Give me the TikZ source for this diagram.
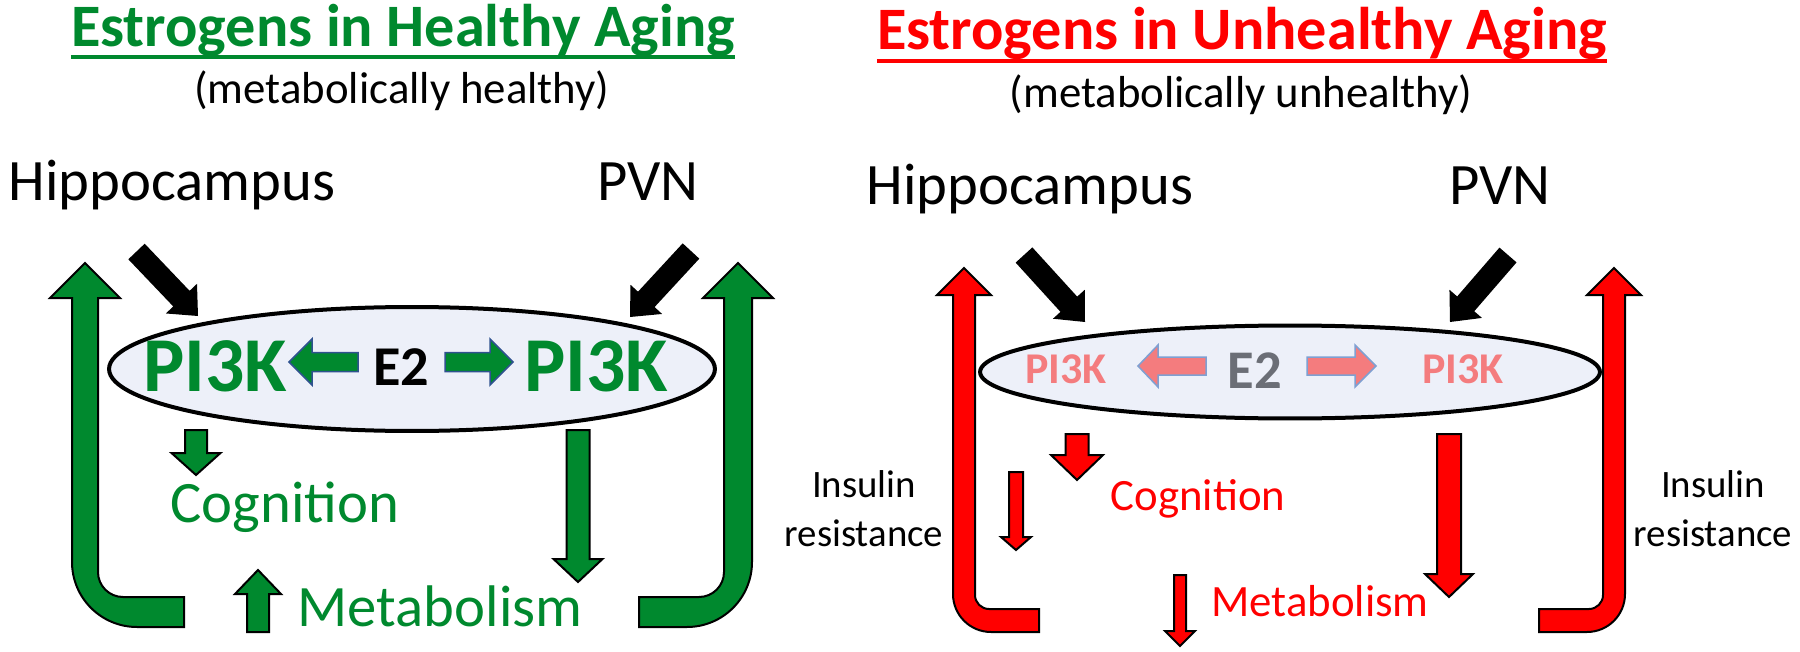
\documentclass[tikz,border=0pt]{standalone}
\usepackage{fontspec}
\setmainfont{Carlito}
\usepackage{xcolor}
\usetikzlibrary{calc, shapes.geometric}

\definecolor{hgreen}{RGB}{0,137,46}
\definecolor{ured}{RGB}{255,0,0}
\definecolor{pinkish}{RGB}{244,124,126}
\definecolor{pinkedge}{RGB}{127,160,210}
\definecolor{slate}{RGB}{107,110,118}
\definecolor{ovalfill}{RGB}{237,240,249}
\definecolor{navyedge}{RGB}{47,82,143}

% block arrow: style, tail, tip, half shaft, half head, head length (in px)
\newcommand{\barrow}[6]{%
  \path[#1] ($(#2)!#4*0.02cm!90:(#3)$)
    -- ($(#3)!#6*0.02cm!(#2)!#4*0.02cm!-90:(#2)$)
    -- ($(#3)!#6*0.02cm!(#2)!#5*0.02cm!-90:(#2)$)
    -- (#3)
    -- ($(#3)!#6*0.02cm!(#2)!#5*0.02cm!90:(#2)$)
    -- ($(#3)!#6*0.02cm!(#2)!#4*0.02cm!90:(#2)$)
    -- ($(#2)!#4*0.02cm!-90:(#3)$) -- cycle;}

\begin{document}
\begin{tikzpicture}[x=0.02cm, y=-0.02cm,
        ttl/.style={font=\bfseries\fontsize{34.3}{40}\selectfont, inner sep=0, anchor=base},
        subttl/.style={font=\fontsize{25.5}{30}\selectfont, inner sep=0, anchor=base},
        region/.style={font=\fontsize{33.4}{40}\selectfont, inner sep=0, anchor=base},
        bigpik/.style={font=\bfseries\fontsize{44.2}{50}\selectfont, text=hgreen, inner sep=0, anchor=base},
        smallpik/.style={font=\bfseries\fontsize{25}{30}\selectfont, text=pinkish, inner sep=0, anchor=base},
        etwo/.style={font=\bfseries\fontsize{32}{36}\selectfont, inner sep=0, anchor=base},
        goodout/.style={font=\fontsize{33.4}{40}\selectfont, text=hgreen, inner sep=0, anchor=base},
        badout/.style={font=\fontsize{25.5}{30}\selectfont, text=ured, inner sep=0, anchor=base},
        insulin/.style={font=\fontsize{22.1}{27.8}\selectfont, align=center, inner sep=0},
        oval/.style={ellipse, draw=black, line width=0.08cm, fill=ovalfill, inner sep=0},
        blackarr/.style={fill=black},
        garr/.style={fill=hgreen, draw=black, line width=0.04cm},
        rarr/.style={fill=ured, draw=black, line width=0.04cm},
        gsmall/.style={fill=hgreen, draw=navyedge, line width=0.03cm},
        psmall/.style={fill=pinkish, draw=pinkedge, line width=0.03cm}]

    \useasboundingbox (0,0) rectangle (1800,652);

    % healthy side
    \node[ttl, text=hgreen] (ttlL) at (403,47) {Estrogens in Healthy Aging};
    \draw[hgreen, line width=0.07cm] ([yshift=-0.2cm]ttlL.base west) -- ([yshift=-0.2cm]ttlL.base east);
    \node[subttl] (subL) at (402,104) {(metabolically healthy)};
    \node[region] (hipL) at (172,200) {Hippocampus};
    \node[region] (pvnL) at (648,200) {PVN};

    \node[oval, minimum width=12.12cm, minimum height=2.48cm] (ovL) at (412,369) {};
    \node[bigpik] (pikL) at (215,391) {PI3K};
    \node[bigpik] (pikR) at (596,391) {PI3K};
    \node[etwo] (etwoL) at (401,385) {E2};
    \node[goodout] (cogL) at (285,522) {Cognition};
    \node[goodout] (metL) at (440,626) {Metabolism};

    \coordinate (hipA) at (136.5,251.5); \coordinate (hipB) at (198,316);
    \coordinate (pvnA) at (691,251);     \coordinate (pvnB) at (630,317);
    \coordinate (gsA) at (358,362);      \coordinate (gsB) at (289,362);
    \coordinate (gtA) at (445,362);      \coordinate (gtB) at (513,362);
    \coordinate (cogA) at (196,430);     \coordinate (cogB) at (196,475);
    \coordinate (metA) at (578,430);     \coordinate (metB) at (578,582);
    \coordinate (upA) at (258,632);      \coordinate (upB) at (258,570);

    \barrow{blackarr}{hipA}{hipB}{11.3}{21.5}{24}
    \barrow{blackarr}{pvnA}{pvnB}{11.3}{21.5}{24}
    \barrow{gsmall}{gsA}{gsB}{9.5}{23}{23}
    \barrow{gsmall}{gtA}{gtB}{9.5}{23}{23}
    \barrow{garr}{cogA}{cogB}{11}{24.5}{22}
    \barrow{garr}{metA}{metB}{11.5}{24.5}{23}
    \barrow{garr}{upA}{upB}{11}{23}{24}

    \draw[garr] (50,298) -- (72,298) -- (72,562) arc[start angle=180, end angle=90, radius=65]
        -- (184,627) -- (184,597) -- (123,597) arc[start angle=90, end angle=180, radius=25]
        -- (98,298) -- (120,298) -- (85,263) -- cycle;
    \draw[garr] (773,298) -- (752,298) -- (752,562) arc[start angle=0, end angle=90, radius=65]
        -- (639,627) -- (639,597) -- (699,597) arc[start angle=90, end angle=0, radius=25]
        -- (724,298) -- (703,298) -- (738,263) -- cycle;

    % unhealthy side
    \node[ttl, text=ured] (ttlR) at (1242,50) {Estrogens in Unhealthy Aging};
    \draw[ured, line width=0.07cm] ([yshift=-0.22cm]ttlR.base west) -- ([yshift=-0.22cm]ttlR.base east);
    \node[subttl] (subR) at (1241,108) {(metabolically unhealthy)};
    \node[region] (hipR) at (1030,205) {Hippocampus};
    \node[region] (pvnR) at (1500,205) {PVN};

    \node[oval, minimum width=12.4cm, minimum height=1.86cm] (ovR) at (1290,372) {};
    \node[smallpik] (pikL2) at (1066,383) {PI3K};
    \node[smallpik] (pikR2) at (1463,383) {PI3K};
    \node[etwo, text=slate, font=\bfseries\fontsize{31}{36}\selectfont] (etwoR) at (1255,388) {E2};
    \node[badout] (cogR) at (1198,510) {Cognition};
    \node[badout] (metR) at (1320,616) {Metabolism};
    \node[insulin] (insL) at (864,509) {Insulin\\resistance};
    \node[insulin] (insR) at (1713,509) {Insulin\\resistance};

    \coordinate (hipA2) at (1024,255);   \coordinate (hipB2) at (1085,322);
    \coordinate (pvnA2) at (1508,255);   \coordinate (pvnB2) at (1450,322);
    \coordinate (psA) at (1206,366);     \coordinate (psB) at (1138,366);
    \coordinate (ptA) at (1307,366);     \coordinate (ptB) at (1376,366);
    \coordinate (cogA2) at (1077,434);   \coordinate (cogB2) at (1077,480);
    \coordinate (thinA) at (1016,472);   \coordinate (thinB) at (1016,550);
    \coordinate (metA2) at (1449,434);   \coordinate (metB2) at (1449,597);
    \coordinate (thinA2) at (1180,575);  \coordinate (thinB2) at (1180,646);

    \barrow{blackarr}{hipA2}{hipB2}{11.3}{21.5}{24}
    \barrow{blackarr}{pvnA2}{pvnB2}{11.3}{21.5}{24}
    \barrow{psmall}{psA}{psB}{9}{21}{20}
    \barrow{psmall}{ptA}{ptB}{9}{21}{21}
    \barrow{rarr}{cogA2}{cogB2}{11.5}{26}{25}
    \barrow{rarr}{thinA}{thinB}{7}{15}{13}
    \barrow{rarr}{metA2}{metB2}{12}{24}{23}
    \barrow{rarr}{thinA2}{thinB2}{6}{15}{15}

    \draw[rarr] (937,295) -- (953,295) -- (953,594) arc[start angle=180, end angle=90, radius=38]
        -- (1039,632) -- (1039,609) -- (989,609) arc[start angle=90, end angle=180, radius=14]
        -- (975,295) -- (991,295) -- (964,268) -- cycle;
    \draw[rarr] (1641,295) -- (1625,295) -- (1625,594) arc[start angle=0, end angle=90, radius=38]
        -- (1539,632) -- (1539,609) -- (1589,609) arc[start angle=90, end angle=0, radius=14]
        -- (1603,295) -- (1587,295) -- (1614,268) -- cycle;
\end{tikzpicture}
\end{document}
